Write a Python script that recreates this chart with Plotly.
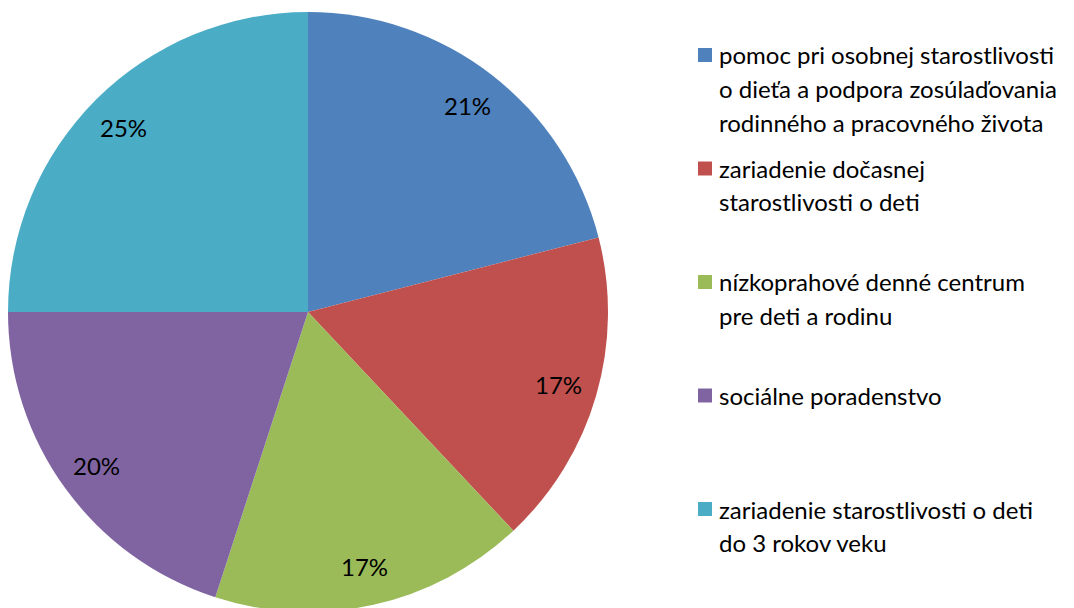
import math
from plotly import graph_objects as go

# slices, clockwise from 12 o'clock
labels = [
    'pomoc pri osobnej starostlivosti o dieťa a podpora zosúlaďovania rodinného a pracovného života',
    'zariadenie dočasnej starostlivosti o deti',
    'nízkoprahové denné centrum pre deti a rodinu',
    'sociálne poradenstvo',
    'zariadenie starostlivosti o deti do 3 rokov veku',
]
legend_lines = [
    ['pomoc pri osobnej starostlivosti', 'o dieťa a podpora zosúlaďovania', 'rodinného a pracovného života'],
    ['zariadenie dočasnej', 'starostlivosti o deti'],
    ['nízkoprahové denné centrum', 'pre deti a rodinu'],
    ['sociálne poradenstvo'],
    ['zariadenie starostlivosti o deti', 'do 3 rokov veku'],
]
values = [21, 17, 17, 20, 25]
colors = ['#4F81BD', '#C0504D', '#9BBB59', '#8064A2', '#4BACC6']

W, H = 1074, 608
FONT = 'Lato'
FONT_SIZE = 24
OFF = 8  # page body margin

# pie geometry in pixels (page coords)
CX, CY, R = 308 - OFF, 312 - OFF, 300

fig = go.Figure(go.Pie(
    labels=labels, values=values, sort=False, direction='clockwise',
    marker=dict(colors=colors, line=dict(width=0)),
    textinfo='none', hoverinfo='label+percent',
    domain=dict(x=[(CX - R) / W, (CX + R) / W],
                y=[1 - (CY + R) / H, 1 - (CY - R) / H]),
))

# percentage labels placed near the outer part of each slice
total = sum(values)
cum = 0
annotations = []
for v in values:
    mid = (cum + v / 2) / total * 2 * math.pi
    cum += v
    px_ = CX + 0.87 * R * math.sin(mid)
    py_ = CY - 0.87 * R * math.cos(mid)
    annotations.append(dict(
        x=px_ / W, y=1 - py_ / H, xref='paper', yref='paper',
        xanchor='center', yanchor='middle',
        text=f'{round(v / total * 100)}%', showarrow=False,
        font=dict(family=FONT, size=FONT_SIZE, color='black'),
    ))

# legend drawn on the right
shapes = []
LEG_X, LEG_Y0, LEG_STEP, LINE_STEP = 717 - OFF, 55 - OFF, 113.5, 33.5
for i, lines in enumerate(legend_lines):
    y_top = LEG_Y0 + i * LEG_STEP
    shapes.append(dict(
        type='rect', xref='paper', yref='paper',
        x0=(698 - OFF) / W, x1=(712 - OFF) / W,
        y0=1 - (48 - OFF + i * LEG_STEP) / H, y1=1 - (62 - OFF + i * LEG_STEP) / H,
        fillcolor=colors[i], line=dict(width=0),
    ))
    for j, line in enumerate(lines):
        annotations.append(dict(
            x=LEG_X / W, y=1 - (y_top + j * LINE_STEP) / H,
            xref='paper', yref='paper', xanchor='left', yanchor='middle',
            text=line, showarrow=False,
            font=dict(family=FONT, size=FONT_SIZE, color='black'),
        ))

fig.update_layout(
    width=W, height=H, showlegend=False,
    margin=dict(l=0, r=0, t=0, b=0),
    paper_bgcolor='white', plot_bgcolor='white',
    annotations=annotations, shapes=shapes,
)

fig.write_html('out.html')
